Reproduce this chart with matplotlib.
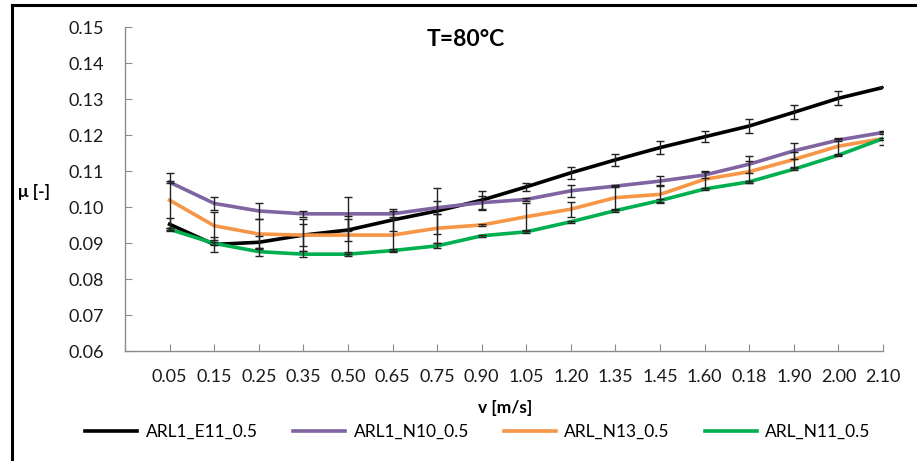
import matplotlib
matplotlib.use("Agg")
import matplotlib.pyplot as plt
from matplotlib.lines import Line2D

# categories (as labelled in the original, incl. the odd "0.18")
speeds = ['0.05', '0.15', '0.25', '0.35', '0.50', '0.65', '0.75', '0.90', '1.05',
          '1.20', '1.35', '1.45', '1.60', '0.18', '1.90', '2.00', '2.10']

# friction coefficient per series
mu_e11 = [0.0952, 0.0896, 0.0902, 0.0922, 0.0936, 0.0964, 0.0989, 0.1019, 0.1056,
          0.1095, 0.1131, 0.1165, 0.1195, 0.1225, 0.1263, 0.1302, 0.1332]
mu_n10 = [0.1069, 0.1010, 0.0989, 0.0981, 0.0981, 0.0981, 0.0998, 0.1012, 0.1021,
          0.1045, 0.1058, 0.1072, 0.1089, 0.1119, 0.1156, 0.1186, 0.1207]
mu_n13 = [0.1019, 0.0948, 0.0925, 0.0922, 0.0922, 0.0922, 0.0941, 0.0950, 0.0973,
          0.0994, 0.1026, 0.1035, 0.1077, 0.1098, 0.1132, 0.1169, 0.1190]
mu_n11 = [0.0938, 0.0899, 0.0876, 0.0869, 0.0869, 0.0879, 0.0892, 0.0920, 0.0931,
          0.0959, 0.0990, 0.1018, 0.1050, 0.1070, 0.1105, 0.1144, 0.1190]

# error bars (+/-)
err_e11 = [0.0017, 0.0020, 0.0017, 0.0045, 0.0030, 0.0030, 0.0063, 0.0025, 0.0012,
           0.0016, 0.0017, 0.0017, 0.0015, 0.0019, 0.0019, 0.0019, 0.0]
err_n10 = [0.0003, 0.0018, 0.0023, 0.0008, 0.0048, 0.0009, 0.0018, 0.0019, 0.0003,
           0.0016, 0.0003, 0.0015, 0.0009, 0.0024, 0.0022, 0.0003, 0.0003]
err_n13 = [0.0076, 0.0039, 0.0042, 0.0030, 0.0053, 0.0044, 0.0040, 0.0003, 0.0037,
           0.0021, 0.0032, 0.0025, 0.0023, 0.0030, 0.0022, 0.0024, 0.0003]
err_n11 = [0.0005, 0.0005, 0.0011, 0.0008, 0.0005, 0.0004, 0.0007, 0.0003, 0.0003,
           0.0003, 0.0003, 0.0003, 0.0003, 0.0003, 0.0003, 0.0003, 0.0019]

series = [
    ('ARL1_E11_0.5', mu_e11, err_e11, '#000000'),
    ('ARL1_N10_0.5', mu_n10, err_n10, '#8064A2'),
    ('ARL_N13_0.5', mu_n13, err_n13, '#F79646'),
    ('ARL_N11_0.5', mu_n11, err_n11, '#00B050'),
]

plt.rcParams['font.family'] = ['Lato', 'DejaVu Sans']

fig = plt.figure(figsize=(9.17, 4.61), dpi=100)
ax = fig.add_axes([125 / 917, 1 - 351 / 461, (883 - 125) / 917, (351 - 27) / 461])

x = list(range(len(speeds)))
for name, mu, err, col in series:
    ax.plot(x, mu, color=col, linewidth=2.6, zorder=2)
for name, mu, err, col in series:
    ax.errorbar(x, mu, yerr=err, fmt='none', ecolor='#222222', elinewidth=1.0,
                capsize=3.2, capthick=1.0, zorder=3)

ax.set_xlim(-1, 16)
ax.set_ylim(0.06, 0.15)
ax.set_xticks(x)
ax.set_xticklabels(speeds)
ax.set_yticks([0.06 + 0.01 * i for i in range(10)])
ax.set_yticklabels(['%.2f' % (0.06 + 0.01 * i) for i in range(10)])

for s in ['top', 'right']:
    ax.spines[s].set_visible(False)
for s in ['left', 'bottom']:
    ax.spines[s].set_color('#8c8c8c')
    ax.spines[s].set_linewidth(1.0)
ax.tick_params(axis='both', direction='in', length=5, color='#8c8c8c',
               labelsize=13, labelcolor='#1a1a1a')
ax.tick_params(axis='y', pad=15)
ax.tick_params(axis='x', pad=13)

fig.text(466 / 917, 1 - 40 / 461, 'T=80°C', ha='center', va='center',
         fontsize=16.5, fontweight='bold')
fig.text(18 / 917, 1 - 192 / 461, 'μ [-]', ha='left', va='center',
         fontsize=12.5, fontweight='bold')
fig.text(505 / 917, 1 - 408 / 461, 'v [m/s]', ha='center', va='center',
         fontsize=12.5, fontweight='bold')

handles = [Line2D([0], [0], color=c, linewidth=2.6) for _, _, _, c in series]
fig.legend(handles, [s[0] for s in series], loc='center', ncol=4,
           bbox_to_anchor=(478 / 917, 1 - 432 / 461), frameon=False,
           fontsize=12.5, handlelength=3.0, handletextpad=0.5, columnspacing=2.0)

# black frame of the cropped screenshot
fig.add_artist(Line2D([12 / 917, 12 / 917], [0, 1 - 5 / 461], color='black',
                      linewidth=2.2, transform=fig.transFigure))
fig.add_artist(Line2D([12 / 917, 1], [1 - 5 / 461, 1 - 5 / 461], color='black',
                      linewidth=2.2, transform=fig.transFigure))

fig.savefig('out.png', dpi=100)
